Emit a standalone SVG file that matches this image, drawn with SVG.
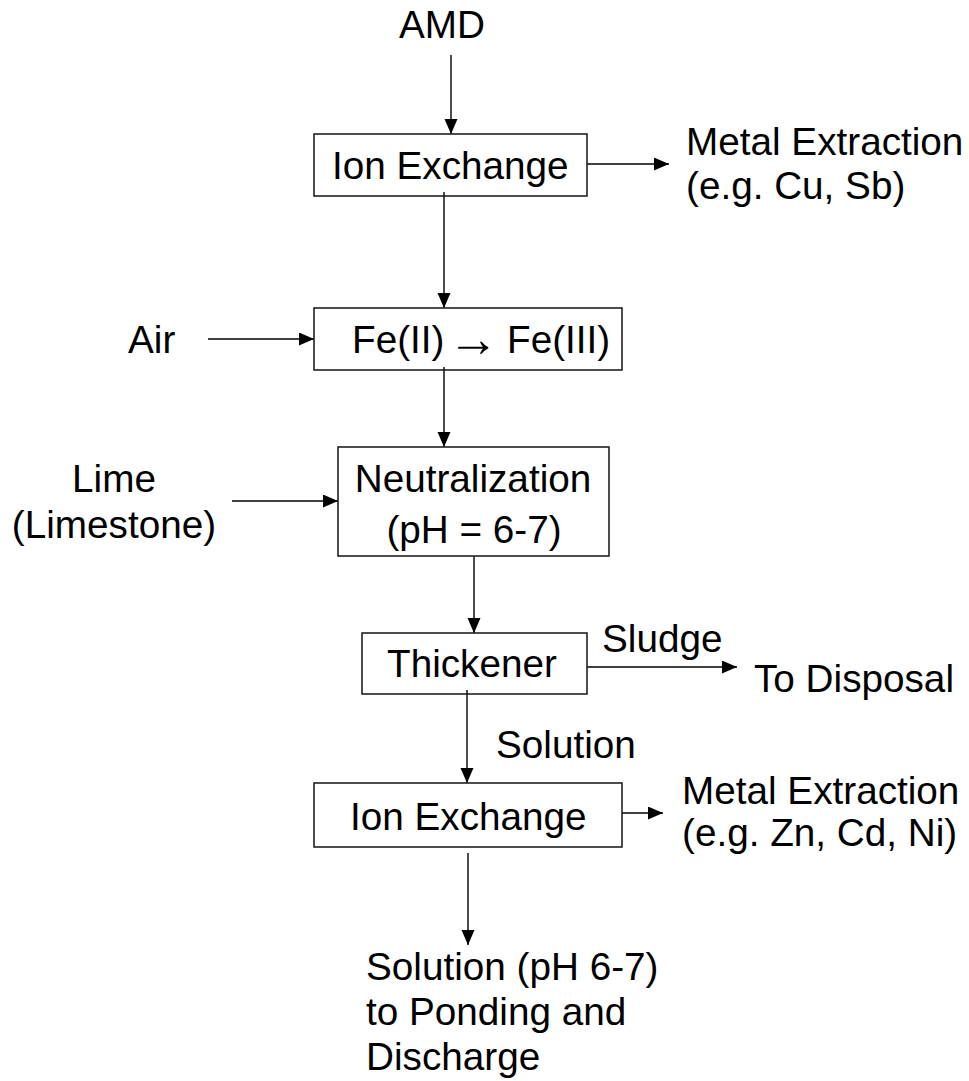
<svg xmlns="http://www.w3.org/2000/svg" width="969" height="1081" viewBox="0 0 969 1081">
  <style>
    text { font-family: "Liberation Sans", Arial, sans-serif; font-size: 38.7px; fill: #000; }
    .box { fill: #fff; stroke: #222; stroke-width: 1.6; }
    .flow { stroke: #000; stroke-width: 1.4; fill: none; marker-end: url(#head); }
    .stub { stroke: #000; stroke-width: 1.4; }
    .mid { text-anchor: middle; }
    .sym { font-size: 51px; }
  </style>
  <defs>
    <marker id="head" markerUnits="userSpaceOnUse" markerWidth="16" markerHeight="14" refX="15" refY="6.5" orient="auto">
      <path d="M0,0 L15,6.5 L0,13 Z" fill="#000"/>
    </marker>
  </defs>
  <rect width="969" height="1081" fill="#fff"/>

  <!-- connectors -->
  <g id="connectors">
    <line class="flow" x1="451" y1="55" x2="451" y2="134"/>
    <line class="flow" x1="444" y1="192" x2="444" y2="308"/>
    <line class="flow" x1="587" y1="164" x2="669" y2="164"/>
    <line class="flow" x1="208" y1="339" x2="314" y2="339"/>
    <line class="flow" x1="444" y1="367" x2="444" y2="447"/>
    <line class="flow" x1="232" y1="501" x2="338" y2="501"/>
    <line class="flow" x1="474" y1="556" x2="474" y2="633"/>
    <line class="flow" x1="587" y1="667" x2="737" y2="667"/>
    <line class="flow" x1="467" y1="690" x2="467" y2="783"/>
    <line class="flow" x1="622" y1="813" x2="663" y2="813"/>
    <line class="flow" x1="468" y1="853" x2="468" y2="945"/>
  </g>

  <!-- free labels -->
  <g id="labels">
    <text x="442" y="38" class="mid">AMD</text>
    <text x="686" y="155">Metal Extraction</text>
    <text x="686" y="199">(e.g. Cu, Sb)</text>
    <text x="128" y="353">Air</text>
    <text x="114" y="492" class="mid">Lime</text>
    <text x="114" y="538" class="mid">(Limestone)</text>
    <text x="602" y="652">Sludge</text>
    <text x="754" y="692">To Disposal</text>
    <text x="496" y="758">Solution</text>
    <text x="682" y="804">Metal Extraction</text>
    <text x="682" y="846">(e.g. Zn, Cd, Ni)</text>
    <text x="366" y="980">Solution (pH 6-7)</text>
    <text x="366" y="1025">to Ponding and</text>
    <text x="366" y="1070">Discharge</text>
  </g>

  <g id="ion-exchange-1">
    <rect class="box" x="314" y="134" width="273" height="62"/>
    <line class="stub" x1="444" y1="192" x2="444" y2="196"/>
    <text x="332" y="179">Ion Exchange</text>
  </g>

  <g id="oxidation">
    <rect class="box" x="314" y="308" width="308" height="62"/>
    <line class="stub" x1="444" y1="367" x2="444" y2="370"/>
    <text x="352" y="353">Fe(II)<tspan class="sym" x="448" dy="3">→</tspan><tspan x="507" dy="-3">Fe(III)</tspan></text>
  </g>

  <g id="neutralization">
    <rect class="box" x="338" y="447" width="271" height="109"/>
    <text x="473" y="492" class="mid">Neutralization</text>
    <text x="474" y="543" class="mid">(pH = 6-7)</text>
  </g>

  <g id="thickener">
    <rect class="box" x="362" y="633" width="225" height="61"/>
    <line class="stub" x1="467" y1="690" x2="467" y2="694"/>
    <text x="387" y="677">Thickener</text>
  </g>

  <g id="ion-exchange-2">
    <rect class="box" x="314" y="783" width="308" height="64"/>
    <text x="350" y="830">Ion Exchange</text>
  </g>
</svg>
